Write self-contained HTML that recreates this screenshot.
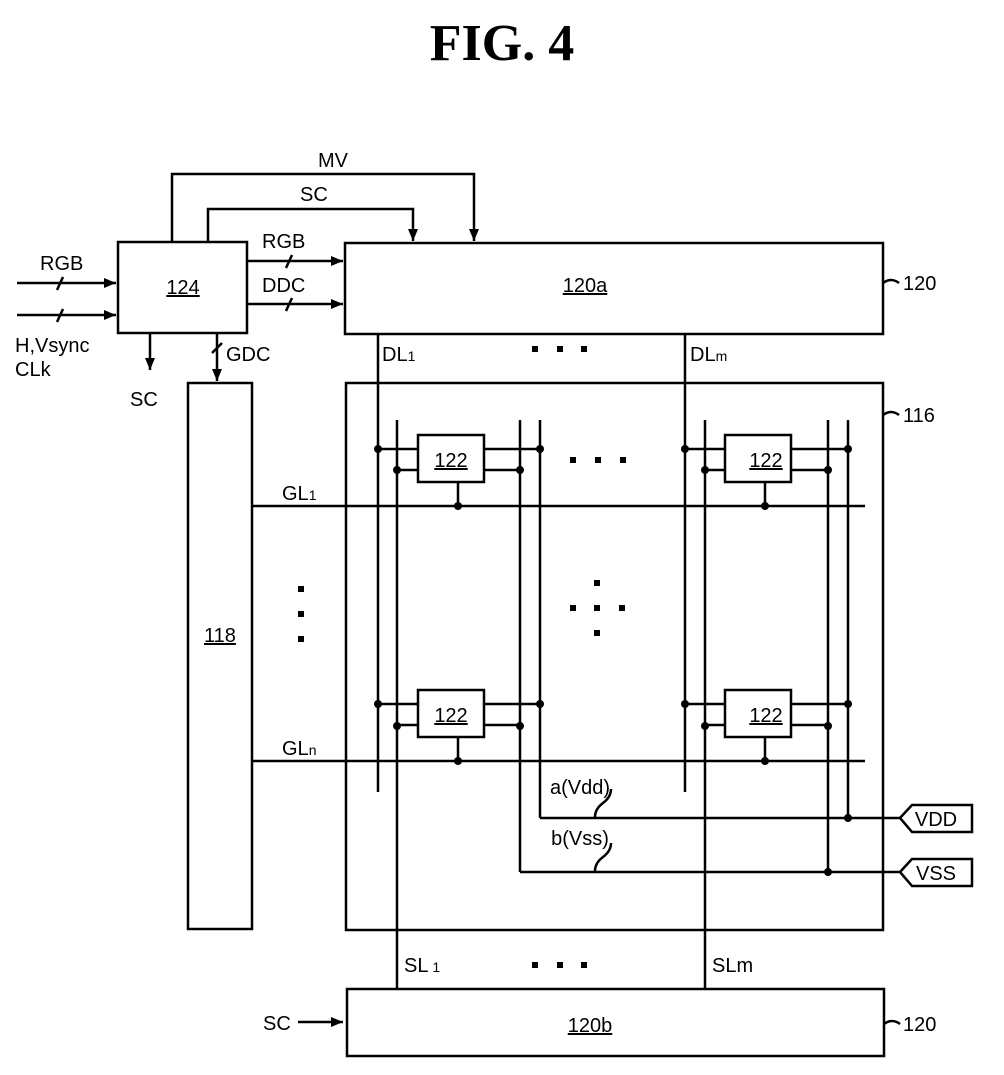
<!DOCTYPE html>
<html><head><style>body{margin:0;background:#fff}svg{display:block}</style></head><body>
<svg width="1004" height="1075" viewBox="0 0 1004 1075" xmlns="http://www.w3.org/2000/svg" font-family="Liberation Sans, sans-serif" font-size="20" fill="#000">
<defs><marker id="a" markerWidth="12" markerHeight="10" refX="12" refY="5" orient="auto" markerUnits="userSpaceOnUse"><path d="M0,0L12,5L0,10z" fill="#000"/></marker></defs>
<text x="502" y="60" text-anchor="middle" font-family="Liberation Serif, serif" font-weight="bold" font-size="52">FIG. 4</text>
<g stroke="#000" stroke-width="2.5" fill="none">
<rect x="118" y="242" width="129" height="91"/>
<rect x="345" y="243" width="538" height="91"/>
<rect x="188" y="383" width="64" height="546"/>
<rect x="346" y="383" width="537" height="547"/>
<rect x="347" y="989" width="537" height="67"/>
<path d="M172,242V174H474V241" marker-end="url(#a)"/>
<path d="M208,242V209H413V241" marker-end="url(#a)"/>
<path d="M247,261H343" marker-end="url(#a)"/>
<path d="M247,304H343" marker-end="url(#a)"/>
<path d="M17,283H116" marker-end="url(#a)"/>
<path d="M17,315H116" marker-end="url(#a)"/>
<path d="M150,333V370" marker-end="url(#a)"/>
<path d="M217,333V381" marker-end="url(#a)"/>
<path d="M298,1022H343" marker-end="url(#a)"/>
<path d="M57,290L63,277M57,322L63,309M286,268L292,255M286,311L292,298M212,353L222,343"/>
<path d="M378,334V792M685,334V792M397,420V989M705,420V989M520,420V872M540,420V818M828,420V872M848,420V818"/>
<path d="M252,506H865M252,761H865"/>
<path d="M540,818H900M520,872H900"/>
<path d="M900,818L912,805H972V832H912Z M900,872L912,859H972V886H912Z"/>
<path d="M883,283q8,-6 16,0M883,415q8,-6 16,0M884,1024q8,-6 16,0"/>
<path d="M595,817q0,-8 8,-14q8,-6 8,-14M595,871q0,-8 8,-14q8,-6 8,-14"/>
</g>
<g stroke="#000" stroke-width="2.5" fill="#fff">
<g id="c1"><path d="M378,449H540M397,470H520M458,482V506" fill="none"/><rect x="418" y="435" width="66" height="47"/></g>
<use href="#c1" x="307"/>
<use href="#c1" y="255"/>
<use href="#c1" x="307" y="255"/>
</g>
<g>
<circle cx="378" cy="449" r="4"/><circle cx="540" cy="449" r="4"/><circle cx="397" cy="470" r="4"/><circle cx="520" cy="470" r="4"/><circle cx="458" cy="506" r="4"/>
<circle cx="685" cy="449" r="4"/><circle cx="848" cy="449" r="4"/><circle cx="705" cy="470" r="4"/><circle cx="828" cy="470" r="4"/><circle cx="765" cy="506" r="4"/>
<circle cx="378" cy="704" r="4"/><circle cx="540" cy="704" r="4"/><circle cx="397" cy="726" r="4"/><circle cx="520" cy="726" r="4"/><circle cx="458" cy="761" r="4"/>
<circle cx="685" cy="704" r="4"/><circle cx="848" cy="704" r="4"/><circle cx="705" cy="726" r="4"/><circle cx="828" cy="726" r="4"/><circle cx="765" cy="761" r="4"/>
<circle cx="848" cy="818" r="4"/><circle cx="828" cy="872" r="4"/>
<rect x="532" y="346" width="6" height="6"/><rect x="557" y="346" width="6" height="6"/><rect x="581" y="346" width="6" height="6"/>
<rect x="532" y="962" width="6" height="6"/><rect x="557" y="962" width="6" height="6"/><rect x="581" y="962" width="6" height="6"/>
<rect x="570" y="457" width="6" height="6"/><rect x="595" y="457" width="6" height="6"/><rect x="620" y="457" width="6" height="6"/>
<rect x="298" y="586" width="6" height="6"/><rect x="298" y="611" width="6" height="6"/><rect x="298" y="636" width="6" height="6"/>
<rect x="594" y="580" width="6" height="6"/><rect x="570" y="605" width="6" height="6"/><rect x="594" y="605" width="6" height="6"/><rect x="619" y="605" width="6" height="6"/><rect x="594" y="630" width="6" height="6"/>
</g>
<g font-size="20">
<text x="318" y="167">MV</text><text x="300" y="201">SC</text>
<text x="262" y="248">RGB</text><text x="262" y="292">DDC</text>
<text x="40" y="270">RGB</text><text x="15" y="352">H,Vsync</text><text x="15" y="376">CLk</text>
<text x="130" y="406">SC</text><text x="226" y="361">GDC</text>
<text x="382" y="361">DL<tspan font-size="14">1</tspan></text><text x="690" y="361">DL<tspan font-size="14">m</tspan></text>
<text x="282" y="500">GL<tspan font-size="14">1</tspan></text><text x="282" y="755">GL<tspan font-size="14">n</tspan></text>
<text x="404" y="972">SL<tspan font-size="14"> 1</tspan></text><text x="712" y="972">SLm</text>
<text x="580" y="794" text-anchor="middle">a(Vdd)</text><text x="580" y="845" text-anchor="middle">b(Vss)</text>
<text x="936" y="826" text-anchor="middle">VDD</text><text x="936" y="880" text-anchor="middle">VSS</text>
<text x="263" y="1030">SC</text>
<text x="903" y="290">120</text><text x="903" y="422">116</text><text x="903" y="1031">120</text>
<g text-decoration="underline">
<text x="183" y="294" text-anchor="middle">124</text>
<text x="585" y="292" text-anchor="middle">120a</text>
<text x="220" y="642" text-anchor="middle">118</text>
<text x="590" y="1032" text-anchor="middle">120b</text>
<text x="451" y="467" text-anchor="middle">122</text><text x="766" y="467" text-anchor="middle">122</text>
<text x="451" y="722" text-anchor="middle">122</text><text x="766" y="722" text-anchor="middle">122</text>
</g></g>
</svg>
</body></html>
